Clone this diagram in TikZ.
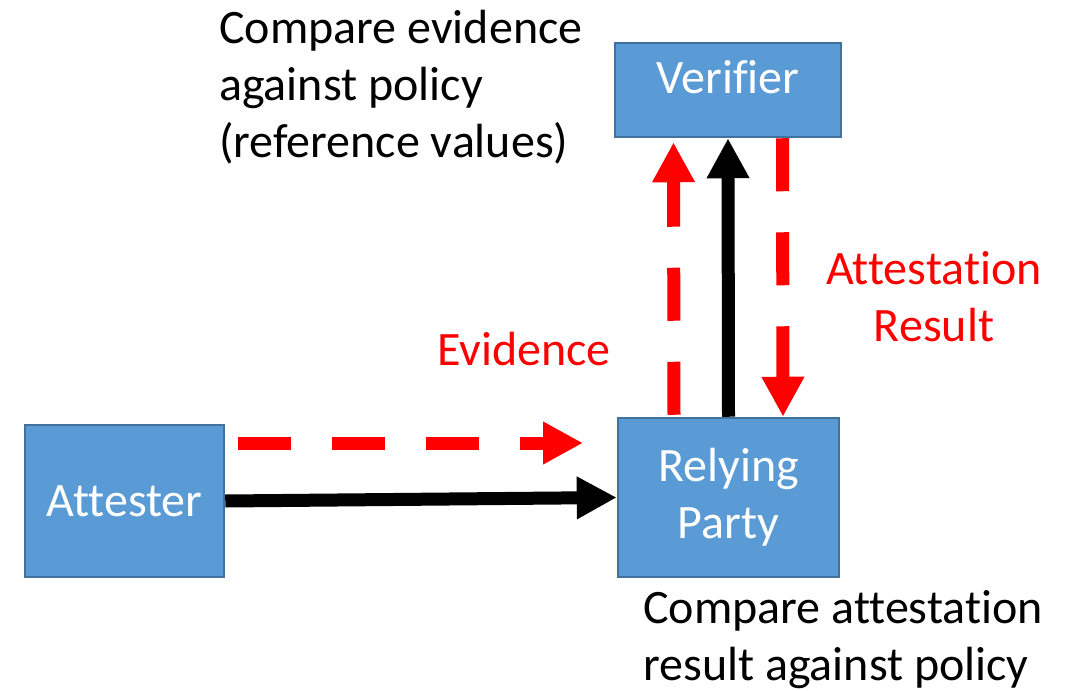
\documentclass[tikz,border=0pt]{standalone}
\usepackage{fontspec}
\setmainfont{Carlito}[Ligatures=NoCommon]
\usetikzlibrary{arrows.meta}

\definecolor{boxblue}{HTML}{5B9BD5}
\definecolor{boxedge}{HTML}{41719C}
\definecolor{evred}{HTML}{FF0000}
\newcommand{\bigfont}{\fontsize{48bp}{57bp}\selectfont}

\begin{document}
\begin{tikzpicture}[x=1bp,y=-1bp,
	entity/.style={draw=boxedge,fill=boxblue,line width=2.5bp,text=white,font=\bigfont,align=center,inner sep=0pt},
	flow/.style={line width=13bp,-{Triangle[length=40bp,width=40bp]}},
	evid/.style={flow,evred,dash pattern=on 53bp off 41bp},
	note/.style={font=\bigfont,align=left,inner sep=0pt}]
	
	\useasboundingbox (0,0) rectangle (1066,691);
	
	% boxes
	\node[entity,minimum width=226bp,minimum height=94bp,text depth=27bp] (verifier) at (728,90) {Verifier};
	\node[entity,minimum width=221bp,minimum height=159bp] (rp) at (728.5,497.5) {Relying\\Party};
	\node[entity,minimum width=199bp,minimum height=152bp] (attester) at (124.5,501) {Attester};
	
	% free ends of the evidence arrow
	\coordinate (ev-start) at (238,443);
	\coordinate (ev-end) at (583,443);
	
	% arrows
	\draw[evid] (ev-start) -- (ev-end);
	\draw[flow] (attester.east) -- (rp.west);
	\draw[evid,shorten <=2bp,shorten >=4bp] ([xshift=-54.5bp]rp.north) -- ([xshift=-54.5bp]verifier.south);
	\draw[flow] (rp.north) -- (verifier.south);
	\draw[evid] ([xshift=54.5bp]verifier.south) -- ([xshift=54.5bp]rp.north);
	
	% notes and labels
	\node[note,anchor=north west] (verifier-note) at (219,10) {Compare evidence\\against policy\\(reference values)};
	\node[note,text=evred,anchor=base west] (ev-label) at (437,365) {Evidence};
	\node[note,text=evred,align=center,anchor=north] (ar-label) at (934,251) {Attestation\\Result};
	\node[note,anchor=north west] (rp-note) at (643,590) {Compare attestation\\result against policy};
	
\end{tikzpicture}
\end{document}
